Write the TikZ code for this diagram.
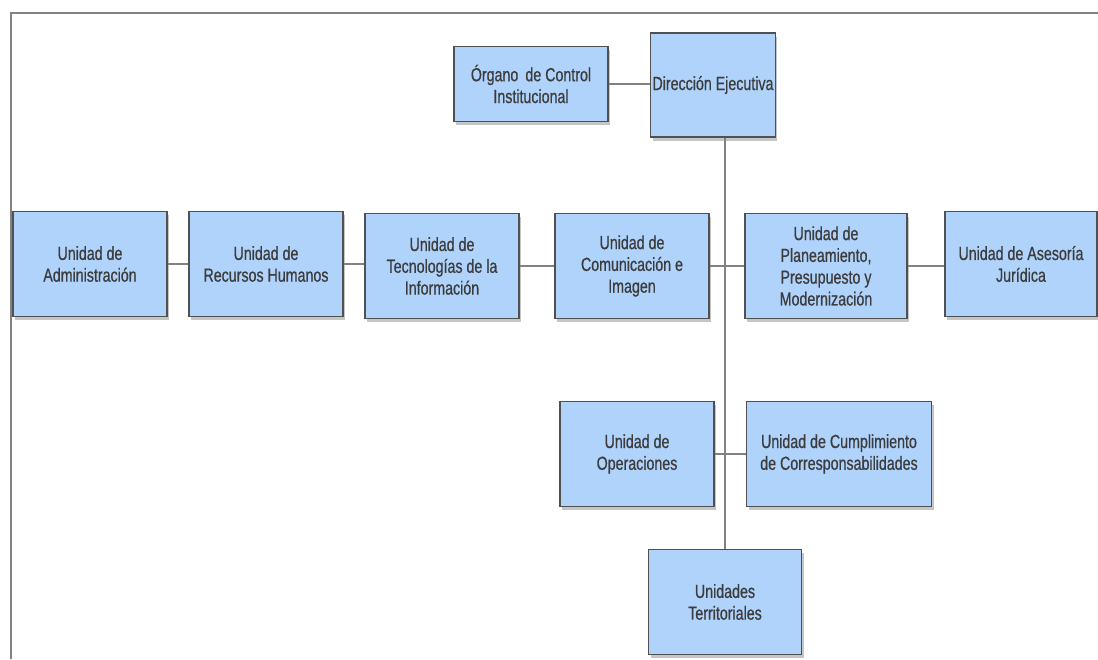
\documentclass[tikz,border=0pt]{standalone}
\usepackage{fontspec}
\setmainfont{Liberation Sans}[FakeStretch=0.75,FakeBold=0.6]
\usepackage{tikz}
\usetikzlibrary{positioning,shadows}
\definecolor{boxblue}{RGB}{176,211,252}
\definecolor{boxline}{RGB}{80,80,80}
\definecolor{linkgray}{RGB}{130,130,130}
\definecolor{txtgray}{RGB}{60,60,60}

\begin{document}
\begin{tikzpicture}[
    unit/.style = {draw=boxline,line width=0.8pt,fill=boxblue,align=center,
                   text=txtgray,font=\fontsize{10.8}{12.4}\selectfont,
                   minimum width=3.08cm,minimum height=2.1cm,inner sep=1pt,
                   drop shadow={shadow xshift=1.2pt,shadow yshift=-2pt,fill=black!45}},
    link/.style = {draw=linkgray,line width=1pt}]
            \useasboundingbox (0,0) rectangle (21.96,13.18);
            \draw [linkgray,line width=1.1pt] (0.22,0) -- (0.22,12.92) -- (21.96,12.92);

            \node [unit,minimum height=1.5cm] (organo) at (10.62,11.50) {Órgano\, de Control\\Institucional};
            \node [unit,minimum width=2.48cm,minimum height=2.08cm] (direccion) at (14.26,11.48) {Dirección Ejecutiva};

            \node [unit] (admin) at (1.80,7.90) {Unidad de\\Administración};
            \node [unit] (rrhh) at (5.32,7.90) {Unidad de\\Recursos Humanos};
            \node [unit] (tic) at (8.84,7.86) {Unidad de\\Tecnologías de la\\Información};
            \node [unit] (comunic) at (12.64,7.86) {Unidad de\\Comunicación e\\Imagen};
            \node [unit,minimum width=3.24cm] (planea) at (16.52,7.86) {Unidad de\\Planeamiento,\\Presupuesto y\\Modernización};
            \node [unit,minimum width=3.04cm] (asesoria) at (20.42,7.90) {Unidad de Asesoría\\Jurídica};

            \node [unit] (operac) at (12.74,4.10) {Unidad de\\Operaciones};
            \node [unit,minimum width=3.7cm] (cumpl) at (16.78,4.10) {Unidad de Cumplimiento\\de Corresponsabilidades};

            \node [unit,minimum width=3.06cm] (territ) at (14.50,1.14) {Unidades\\Territoriales};

            \draw [link] (organo) -- (organo -| direccion.west);
            \draw [link] (territ.north |- direccion.south) -- (territ.north);
            \draw [link] (admin) -- (rrhh);
            \draw [link] (rrhh.east) -- (rrhh.east -| tic.west);
            \draw [link] (tic.east) -- (tic.east -| comunic.west);
            \draw [link] (comunic) -- (planea);
            \draw [link] (planea.east) -- (planea.east -| asesoria.west);
            \draw [link] (operac) -- (cumpl);
\end{tikzpicture}
\end{document}
